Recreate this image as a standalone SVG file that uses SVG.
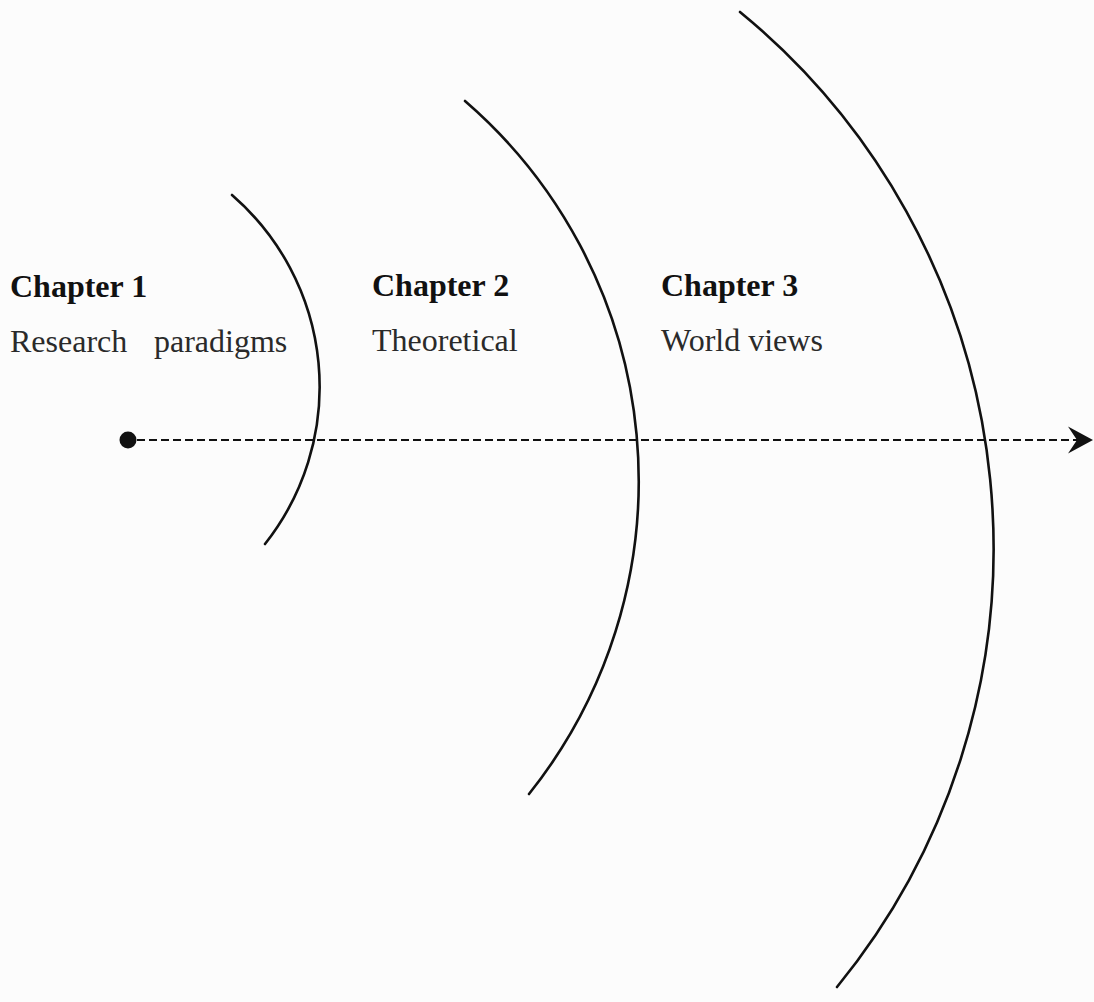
<svg xmlns="http://www.w3.org/2000/svg" width="1094" height="1002" viewBox="0 0 1094 1002">
  <style>
    .arc { fill: none; stroke: #111; stroke-width: 2.6; stroke-linecap: round; }
    .head { font-family: "Liberation Serif", "Times New Roman", serif; font-size: 32px; font-weight: bold; fill: #111; }
    .sub { font-family: "Liberation Serif", "Times New Roman", serif; font-size: 32px; fill: #2a2a2a; }
    .axis { fill: none; stroke: #111; stroke-width: 1.8; stroke-dasharray: 8 4; }
  </style>
  <defs>
    <marker id="arrowhead" markerUnits="userSpaceOnUse" viewBox="-9 -14 25 28" refX="0" refY="0" markerWidth="25" markerHeight="28" orient="auto">
      <path d="M -9 -13.5 L 16 0 L -9 13.5 L 0 0 Z" fill="#111"/>
    </marker>
  </defs>

  <rect x="0" y="0" width="1094" height="1002" fill="#fcfcfc"/>

  <!-- timeline axis -->
  <g id="connectors">
    <line class="axis" x1="137" y1="440" x2="1077" y2="440" marker-end="url(#arrowhead)"/>
  </g>

  <!-- starting point -->
  <g id="origin">
    <circle cx="128" cy="440" r="8.5" fill="#111"/>
  </g>

  <!-- Chapter 1 -->
  <g id="chapter1">
    <path class="arc" d="M 232 195 A 253.6 253.6 0 0 1 265 544"/>
    <text class="head" x="10" y="297">Chapter 1</text>
    <text class="sub" y="352"><tspan x="10">Research</tspan><tspan x="154">paradigms</tspan></text>
  </g>

  <!-- Chapter 2 -->
  <g id="chapter2">
    <path class="arc" d="M 465 101 A 502 502 0 0 1 529 794"/>
    <text class="head" x="372" y="296">Chapter 2</text>
    <text class="sub" x="372" y="351">Theoretical</text>
  </g>

  <!-- Chapter 3 -->
  <g id="chapter3">
    <path class="arc" d="M 740 12 A 693.5 693.5 0 0 1 837 987"/>
    <text class="head" x="661" y="296">Chapter 3</text>
    <text class="sub" x="661" y="351">World views</text>
  </g>
</svg>
